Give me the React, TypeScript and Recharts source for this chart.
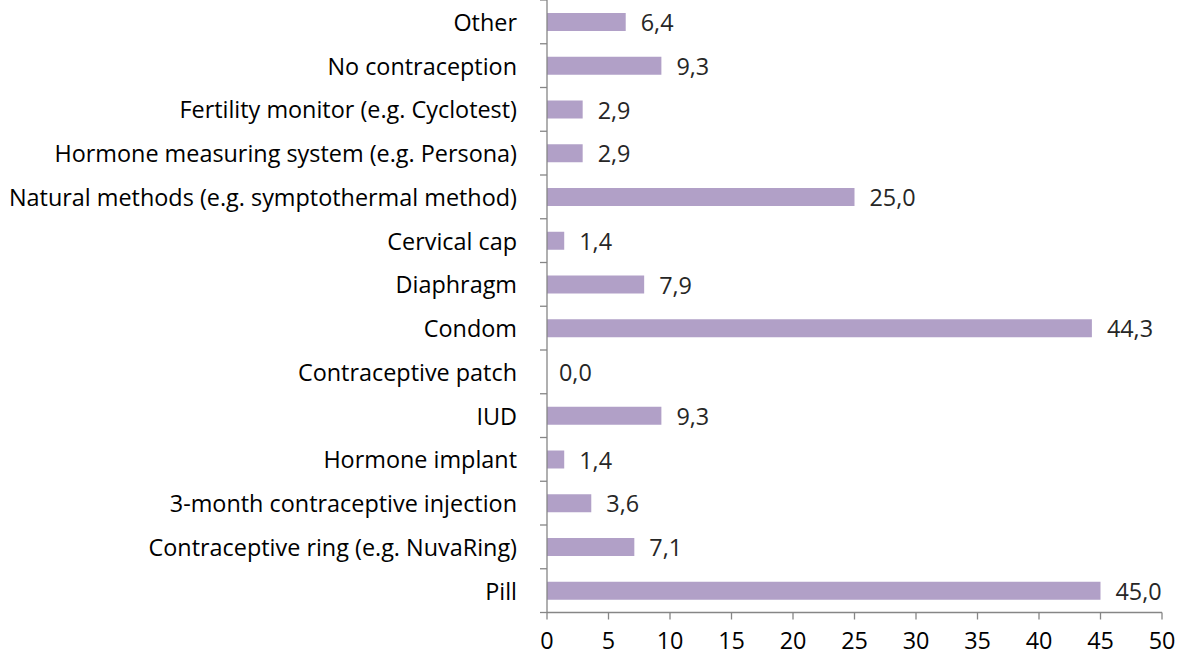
import React from "react";
import { BarChart, Bar, XAxis, YAxis, LabelList } from "recharts";

const categories = [
  "Other",
  "No contraception",
  "Fertility monitor (e.g. Cyclotest)",
  "Hormone measuring system (e.g. Persona)",
  "Natural methods (e.g. symptothermal method)",
  "Cervical cap",
  "Diaphragm",
  "Condom",
  "Contraceptive patch",
  "IUD",
  "Hormone implant",
  "3-month contraceptive injection",
  "Contraceptive ring (e.g. NuvaRing)",
  "Pill",
];
const values = [6.4, 9.3, 2.9, 2.9, 25.0, 1.4, 7.9, 44.3, 0.0, 9.3, 1.4, 3.6, 7.1, 45.0];
const xTicks = [0, 5, 10, 15, 20, 25, 30, 35, 40, 45, 50];

const data = categories.map((c, i) => ({ name: c, value: values[i] }));

const FONT = "'Open Sans', sans-serif";
const FS = 23.4;
const W = 1190;
const H = 657;
const TOP = 0;
const PLOT_BOTTOM = 612.5;
const BAND = (PLOT_BOTTOM - TOP) / categories.length;
const AXIS_COLOR = "#868686";

const YTick = (props: any) => {
  const { x, y, payload, index } = props;
  const axisX = x + 30;
  return (
    <g>
      <text
        x={x}
        y={y}
        textAnchor="end"
        dominantBaseline="central"
        fontFamily={FONT}
        fontSize={FS}
        fill="#000"
      >
        {payload.value}
      </text>
      {index === 0 && (
        <line x1={axisX - 7} x2={axisX} y1={y - BAND / 2} y2={y - BAND / 2} stroke={AXIS_COLOR} strokeWidth={1.3} />
      )}
      <line x1={axisX - 7} x2={axisX} y1={y + BAND / 2} y2={y + BAND / 2} stroke={AXIS_COLOR} strokeWidth={1.3} />
    </g>
  );
};

const fmt = (v: any) => Number(v).toFixed(1).replace(".", ",");

const ValueLabel = (props: any) => {
  const { x, y, width, height, value } = props;
  const w = Number(width || 0);
  const xx = Number(x) + w + (w < 1 ? 12 : 15);
  const yy = Number(y) + Number(height || 0) / 2;
  return (
    <text
      x={xx}
      y={yy}
      dominantBaseline="central"
      textAnchor="start"
      fontFamily={FONT}
      fontSize={FS}
      fill="#262626"
    >
      {fmt(value)}
    </text>
  );
};

export default function App() {
  return (
    <div style={{ position: "absolute", left: 0, top: 0, width: W, height: H, background: "#fff" }}>
      <BarChart
        width={W}
        height={H}
        data={data}
        layout="vertical"
        margin={{ top: TOP, right: 28, left: 0, bottom: 0 }}
        barCategoryGap={0}
      >
        <XAxis
          type="number"
          domain={[0, 50]}
          ticks={xTicks}
          interval={0}
          height={H - PLOT_BOTTOM}
          tickSize={7}
          tickMargin={13}
          stroke={AXIS_COLOR}
          strokeWidth={1.3}
          tick={{ fill: "#000", fontFamily: FONT, fontSize: FS }}
        />
        <YAxis
          type="category"
          dataKey="name"
          width={547}
          tickLine={false}
          tickSize={0}
          tickMargin={30}
          interval={0}
          stroke={AXIS_COLOR}
          strokeWidth={1.3}
          tick={<YTick />}
        />
        <Bar dataKey="value" fill="#B1A0C7" barSize={18} minPointSize={0.01} isAnimationActive={false}>
          <LabelList dataKey="value" content={<ValueLabel />} />
        </Bar>
      </BarChart>
    </div>
  );
}
